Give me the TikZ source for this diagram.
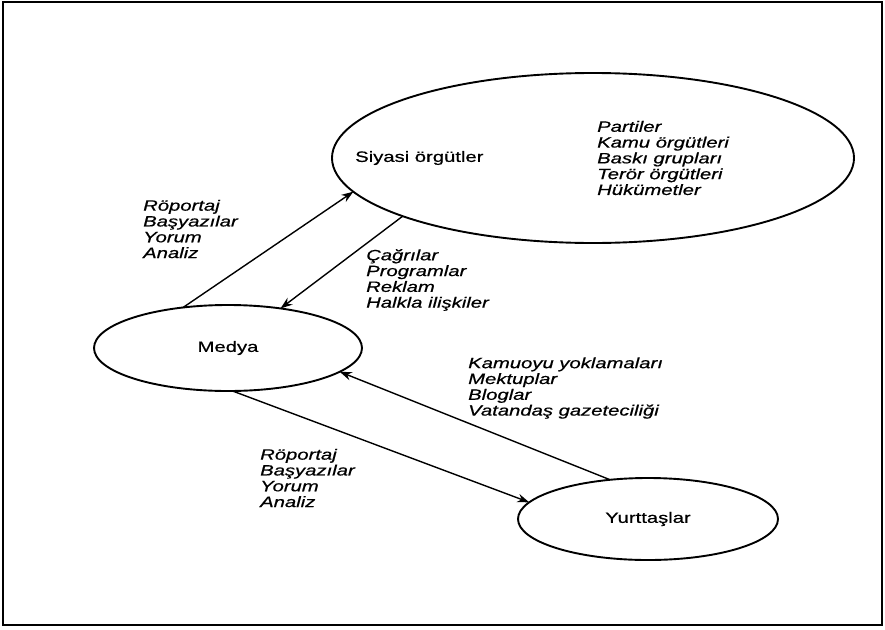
\documentclass[tikz,border=0pt]{standalone}
\usepackage{fontspec}
\setmainfont{Liberation Sans}[FakeBold=0.5]
\usepackage{graphicx}
\usetikzlibrary{shapes.geometric,arrows.meta}
\newcommand\sx[1]{\scalebox{1.35}[1]{#1}}
\tikzset{
  oval/.style={ellipse, draw, line width=1.9pt, inner sep=0pt, outer sep=0pt},
  title/.style={inner sep=0pt, font=\fontsize{15}{15.8}\selectfont},
  lst/.style={inner sep=0pt, anchor=west, align=left, font=\fontsize{15}{15.8}\selectfont\itshape},
  link/.style={line width=1.4pt, -{Stealth[length=12pt,width=8.5pt]}},
  frame/.style={line width=2.2pt}
}
\begin{document}
\begin{tikzpicture}[x=1pt,y=-1pt]
\useasboundingbox (0,0) rectangle (885,629);
\draw[frame] (3,2) rectangle (882,625);

\node[oval, minimum width=522pt, minimum height=170pt] (S) at (593,158) {};
\node[oval, minimum width=268pt, minimum height=86pt] (M) at (228,348) {};
\node[oval, minimum width=260pt, minimum height=82pt] (Y) at (648,519) {};

\node[title, anchor=west] (St) at (355,158) {\sx{Siyasi örgütler}};
\node[title] (Mt) at (228,348) {\sx{Medya}};
\node[title] (Yt) at (648,519) {\sx{Yurttaşlar}};

\node[lst] (SL) at (597,158) {\sx{Partiler}\\\sx{Kamu örgütleri}\\\sx{Baskı grupları}\\\sx{Terör örgütleri}\\\sx{Hükümetler}};
\node[lst] (L1) at (143,229) {\sx{Röportaj}\\\sx{Başyazılar}\\\sx{Yorum}\\\sx{Analiz}};
\node[lst] (L2) at (366,280) {\sx{Çağrılar}\\\sx{Programlar}\\\sx{Reklam}\\\sx{Halkla ilişkiler}};
\node[lst] (L3) at (468,388) {\sx{Kamuoyu yoklamaları}\\\sx{Mektuplar}\\\sx{Bloglar}\\\sx{Vatandaş gazeteciliği}};
\node[lst] (L4) at (260,478) {\sx{Röportaj}\\\sx{Başyazılar}\\\sx{Yorum}\\\sx{Analiz}};

\draw[link] (M.138.3) -- (S.188);
\draw[link] (S.197.7) -- (M.37.2);
\draw[link] (Y.134.3) -- (M.-12.8);
\draw[link] (M.-84.6) -- (Y.172.7);
\end{tikzpicture}
\end{document}
